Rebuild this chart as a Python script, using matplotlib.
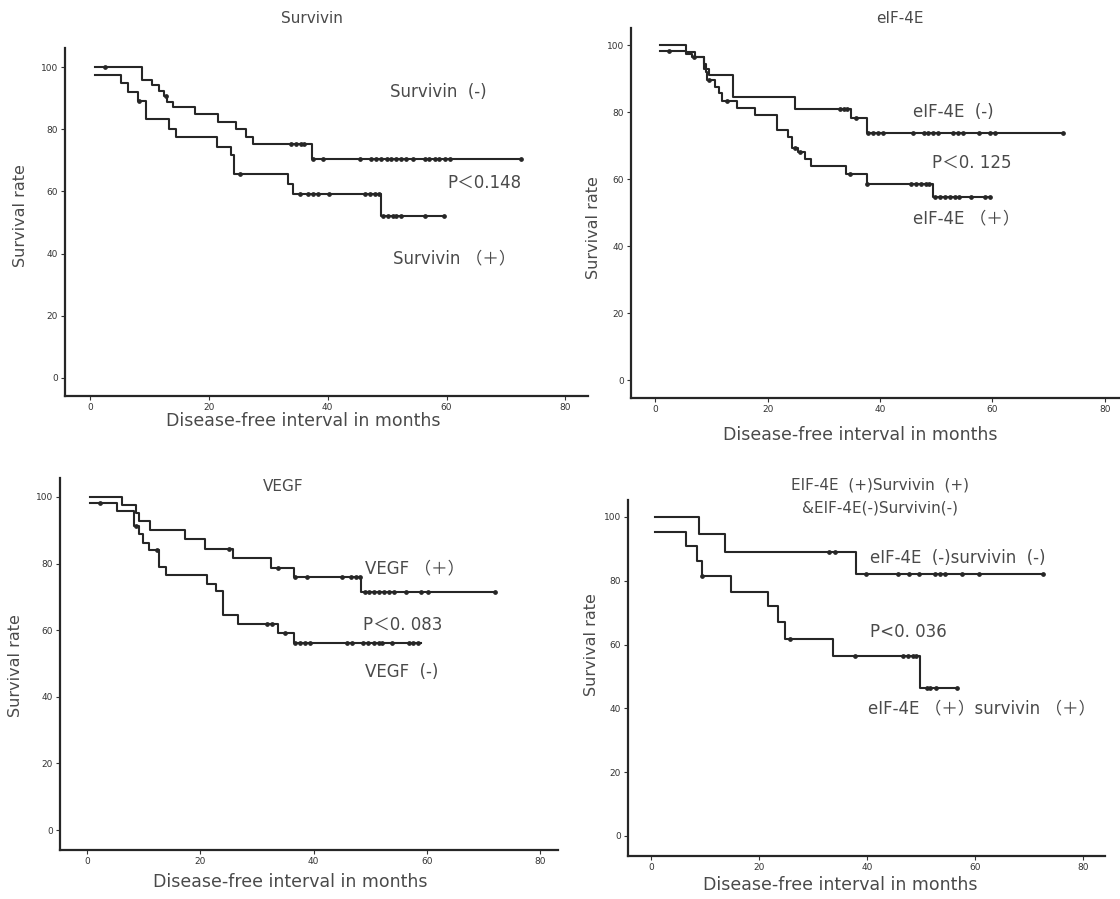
import numpy as np
import matplotlib.pyplot as plt

plt.rcParams['font.family'] = ['DejaVu Sans', 'Noto Sans CJK JP']

# ---- Survivin ----
surv_neg_t = [0.8, 8.7, 10.5, 11.6, 12.4, 13.0, 14.0, 17.6, 21.6, 24.5, 26.3, 27.4, 37.4]
surv_neg_s = [100, 95.8, 94.2, 92.4, 90.8, 88.8, 87.2, 84.8, 82.4, 80.0, 77.6, 75.4, 70.5]
surv_neg_end = 72.5
surv_neg_cens = [2.5, 12.8, 33.8, 34.6, 35.5, 36.0, 37.6, 39.2, 45.4, 47.3, 48.2, 49.0, 49.9,
                 50.7, 51.5, 52.4, 53.2, 54.3, 56.3, 57.1, 58.0, 58.8, 59.7, 60.5, 72.5]

surv_pos_t = [0.8, 5.3, 6.4, 8.1, 9.4, 13.3, 14.4, 21.4, 23.8, 24.2, 33.3, 34.2, 49.0]
surv_pos_s = [97.6, 94.9, 92.0, 89.0, 83.4, 80.2, 77.5, 74.3, 71.6, 65.7, 62.5, 59.3, 52.0]
surv_pos_end = 59.5
surv_pos_cens = [8.3, 25.2, 35.3, 36.7, 37.5, 38.4, 40.3, 46.2, 47.1, 47.9, 48.7, 49.3,
                 50.1, 51.0, 51.5, 52.4, 56.3, 59.5]

# ---- eIF-4E ----
eif_neg_t = [0.9, 5.5, 7.0, 8.6, 9.5, 13.8, 24.9, 34.8, 37.6]
eif_neg_s = [100, 98.0, 96.6, 93.0, 91.0, 84.7, 81.1, 78.4, 73.9]
eif_neg_end = 72.5
eif_neg_cens = [32.8, 33.6, 34.2, 35.8, 37.9, 38.8, 39.6, 40.5, 45.9, 47.8, 48.5, 49.4,
                50.3, 53.0, 53.8, 54.7, 57.7, 59.5, 60.4, 72.5]

eif_pos_t = [0.9, 5.5, 6.5, 8.6, 9.0, 9.3, 10.7, 11.3, 11.9, 14.6, 17.8, 21.6, 23.6,
             24.4, 25.4, 26.6, 27.8, 34.0, 37.6, 49.4]
eif_pos_s = [98.3, 97.3, 96.4, 94.3, 92.0, 89.6, 87.6, 85.8, 83.5, 81.4, 79.1, 74.8,
             72.6, 69.4, 68.0, 66.0, 64.0, 61.5, 58.7, 54.8]
eif_pos_end = 59.6
eif_pos_cens = [2.5, 6.9, 9.6, 12.8, 24.9, 25.8, 34.6, 37.6, 45.6, 46.4, 47.3, 48.2, 48.8,
                49.7, 50.6, 51.5, 52.4, 53.3, 54.1, 56.2, 58.6, 59.6]

# ---- VEGF ----
vegf_pos_t = [0.5, 6.2, 8.6, 9.2, 11.1, 17.3, 20.8, 25.8, 32.5, 36.6, 48.3]
vegf_pos_s = [100, 97.6, 95.3, 92.9, 90.1, 87.3, 84.5, 81.8, 78.8, 76.0, 71.5]
vegf_pos_end = 72.0
vegf_pos_cens = [25.1, 33.8, 36.8, 38.9, 45.1, 46.6, 47.5, 48.2, 49.1, 49.8, 50.7, 51.6,
                 52.5, 53.4, 54.3, 56.3, 59.0, 60.2, 72.0]

vegf_neg_t = [0.5, 5.2, 8.2, 9.1, 9.8, 10.9, 12.7, 13.9, 21.1, 22.7, 24.0, 26.7, 33.7, 36.5]
vegf_neg_s = [98.1, 95.8, 91.3, 88.8, 86.3, 84.0, 79.0, 76.5, 74.0, 71.8, 64.5, 61.8, 59.3, 56.2]
vegf_neg_end = 59.0
vegf_neg_cens = [2.2, 8.6, 12.3, 31.7, 32.6, 35.0, 36.8, 37.6, 38.5, 39.4, 45.9, 46.8,
                 48.8, 49.7, 50.6, 51.5, 52.1, 53.8, 56.8, 57.6, 58.5]

# ---- eIF-4E & Survivin combined ----
comb_neg_t = [0.7, 8.8, 13.7, 38.0]
comb_neg_s = [100, 94.6, 89.1, 82.0]
comb_neg_end = 72.6
comb_neg_cens = [33.0, 34.0, 39.8, 45.7, 47.8, 49.7, 52.5, 53.5, 54.5, 57.6, 60.7, 72.6]

comb_pos_t = [0.7, 6.5, 8.5, 9.4, 14.7, 21.7, 23.5, 24.8, 33.7, 49.8]
comb_pos_s = [95.3, 90.8, 86.1, 81.5, 76.6, 72.0, 67.0, 61.8, 56.3, 46.3]
comb_pos_end = 56.7
comb_pos_cens = [9.4, 25.8, 37.7, 46.7, 47.6, 48.5, 49.1, 51.1, 51.7, 52.7, 56.7]

x_ticks = [0, 20, 40, 60, 80]
y_ticks = [0, 20, 40, 60, 80, 100]

ink = '#262626'
txt = '#4a4a4a'


def km(ax, t, s, end, cens):
    xs = list(t) + [end]
    ys = list(s) + [s[-1]]
    ax.plot(xs, ys, drawstyle='steps-post', color=ink, lw=1.5)
    t = np.array(t)
    s = np.array(s)
    idx = np.searchsorted(t, cens, side='right') - 1
    ax.plot(cens, s[idx], ls='none', marker='o', ms=2.4, color=ink)


def setup(ax, xlim, ylim, xl, yl):
    ax.set_xlim(*xlim)
    ax.set_ylim(*ylim)
    ax.set_xticks(x_ticks)
    ax.set_yticks(y_ticks)
    for side in ['top', 'right']:
        ax.spines[side].set_visible(False)
    for side in ['left', 'bottom']:
        ax.spines[side].set_linewidth(1.6)
        ax.spines[side].set_color(ink)
    ax.tick_params(direction='out', length=3, width=0.8, labelsize=6.5,
                   colors='#333333', pad=2)
    ax.set_xlabel('Disease-free interval in months', fontsize=12.5, color=txt)
    ax.xaxis.set_label_coords(*xl)
    ax.set_ylabel('Survival rate', fontsize=11.5, color=txt)
    ax.yaxis.set_label_coords(*yl)


fig = plt.figure(figsize=(11.2, 8.99), dpi=100)

# top-left
ax1 = fig.add_axes([0.058, 0.5595, 0.467, 0.387])
km(ax1, surv_neg_t, surv_neg_s, surv_neg_end, surv_neg_cens)
km(ax1, surv_pos_t, surv_pos_s, surv_pos_end, surv_pos_cens)
setup(ax1, (-4.2, 83.8), (-5.8, 106.1), (0.455, -0.045), (-0.071, 0.52))
ax1.text(0.472, 1.086, 'Survivin', transform=ax1.transAxes, ha='center', va='center',
         fontsize=11, color=txt)
ax1.text(50.5, 92, 'Survivin  (-)', fontsize=12, color=txt, va='center')
ax1.text(60.1, 62.7, 'P＜0.148', fontsize=12, color=txt, va='center')
ax1.text(51, 38.6, 'Survivin （＋）', fontsize=12, color=txt, va='center')

# top-right
ax2 = fig.add_axes([0.5634, 0.557, 0.4366, 0.4116])
km(ax2, eif_neg_t, eif_neg_s, eif_neg_end, eif_neg_cens)
km(ax2, eif_pos_t, eif_pos_s, eif_pos_end, eif_pos_cens)
setup(ax2, (-4.3, 82.7), (-5.4, 105.1), (0.468, -0.075), (-0.061, 0.46))
ax2.text(0.55, 1.027, 'eIF-4E', transform=ax2.transAxes, ha='center', va='center',
         fontsize=11, color=txt)
ax2.text(45.9, 80, 'eIF-4E  (-)', fontsize=12, color=txt, va='center')
ax2.text(49.2, 64.8, 'P＜0. 125', fontsize=12, color=txt, va='center')
ax2.text(45.9, 48.4, 'eIF-4E （＋）', fontsize=12, color=txt, va='center')

# bottom-left
ax3 = fig.add_axes([0.0536, 0.0545, 0.4446, 0.4138])
km(ax3, vegf_pos_t, vegf_pos_s, vegf_pos_end, vegf_pos_cens)
km(ax3, vegf_neg_t, vegf_neg_s, vegf_neg_end, vegf_neg_cens)
setup(ax3, (-4.8, 83.2), (-6.0, 105.7), (0.462, -0.062), (-0.074, 0.497))
ax3.text(0.448, 0.978, 'VEGF', transform=ax3.transAxes, ha='center', va='center',
         fontsize=11, color=txt)
ax3.text(49.1, 78.7, 'VEGF （＋）', fontsize=12, color=txt, va='center')
ax3.text(48.8, 61.6, 'P＜0. 083', fontsize=12, color=txt, va='center')
ax3.text(49.1, 47.4, 'VEGF  (-)', fontsize=12, color=txt, va='center')

# bottom-right
ax4 = fig.add_axes([0.5607, 0.0478, 0.426, 0.396])
km(ax4, comb_neg_t, comb_neg_s, comb_neg_end, comb_neg_cens)
km(ax4, comb_pos_t, comb_pos_s, comb_pos_end, comb_pos_cens)
setup(ax4, (-4.3, 84.1), (-6.3, 105.3), (0.444, -0.055), (-0.061, 0.593))
ax4.text(0.528, 1.042, 'EIF-4E  (+)Survivin  (+)', transform=ax4.transAxes,
         ha='center', va='center', fontsize=11, color=txt)
ax4.text(0.528, 0.978, '&EIF-4E(-)Survivin(-)', transform=ax4.transAxes,
         ha='center', va='center', fontsize=11, color=txt)
ax4.text(40.6, 87.1, 'eIF-4E  (-)survivin  (-)', fontsize=12, color=txt, va='center')
ax4.text(40.6, 64, 'P<0. 036', fontsize=12, color=txt, va='center')
ax4.text(40.2, 40.1, 'eIF-4E （＋）survivin （＋）', fontsize=12, color=txt, va='center')

fig.savefig('out.png', dpi=100)
